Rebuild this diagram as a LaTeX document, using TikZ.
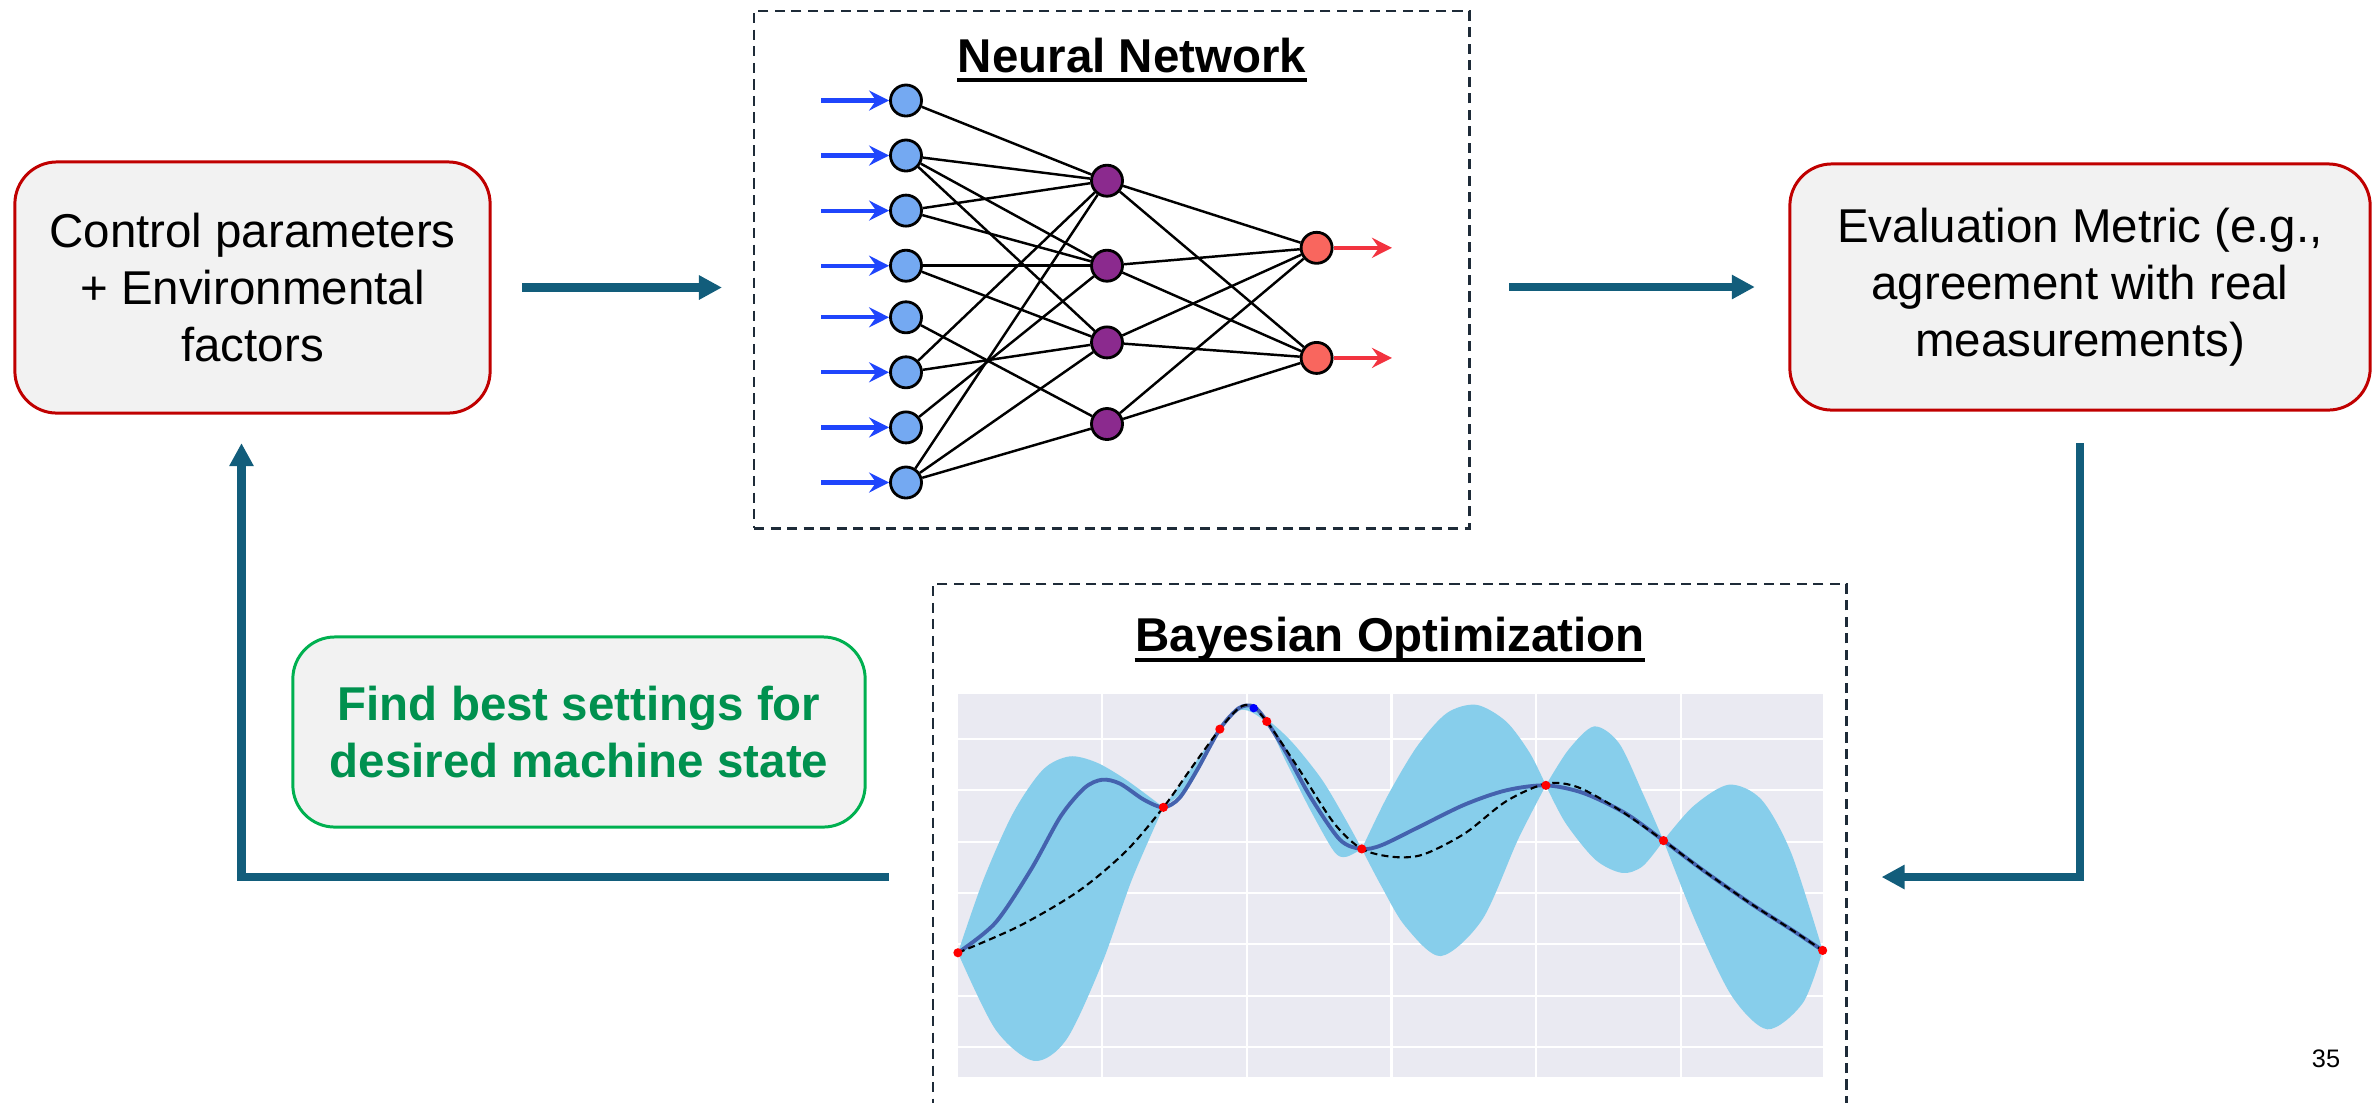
\documentclass[tikz,border=0pt]{standalone}
\usepackage{fontspec}
\setmainfont{Liberation Sans}
\usetikzlibrary{arrows.meta}

\definecolor{boxred}{HTML}{C00000}
\definecolor{boxgray}{HTML}{F2F2F2}
\definecolor{boxgreen}{HTML}{00B050}
\definecolor{txtgreen}{HTML}{00914F}
\definecolor{flowteal}{HTML}{125D7B}
\definecolor{dashnavy}{HTML}{1E2B38}
\definecolor{inblue}{HTML}{74A9F2}
\definecolor{hidpurple}{HTML}{8B2A8E}
\definecolor{outred}{HTML}{F9665E}
\definecolor{arrblue}{HTML}{1F45FC}
\definecolor{arrred}{HTML}{F2333F}
\definecolor{plotbg}{HTML}{EAEAF2}
\definecolor{bandblue}{HTML}{87CEEB}
\definecolor{meanblue}{HTML}{4462AE}

\begin{document}
\begin{tikzpicture}[x=0.01cm, y=-0.01cm]
      \tikzstyle{PBOX} = [draw=boxred, fill=boxgray, line width=0.85pt, rounded corners=0.42cm, align=center, inner sep=0pt, outer sep=0pt, font=\fontsize{13.5pt}{16.2pt}\selectfont]
      \tikzstyle{GBOX} = [PBOX, draw=boxgreen, text=txtgreen, font=\bfseries\fontsize{13.5pt}{16.2pt}\selectfont]
      \tikzstyle{DBOX} = [draw=dashnavy, line width=0.8pt, dash pattern=on 2.9pt off 1.8pt, inner sep=0pt, outer sep=0pt]
      \tikzstyle{TITLE} = [inner sep=0pt, font=\bfseries\fontsize{13.5pt}{16.2pt}\selectfont]
      \tikzstyle{FLOW} = [draw=flowteal, line width=2.3pt, -{Triangle[length=0.23cm, width=0.23cm]}]
      \tikzstyle{INN} = [circle, draw=black, line width=0.8pt, fill=inblue, minimum size=0.31cm, inner sep=0pt]
      \tikzstyle{HID} = [INN, fill=hidpurple]
      \tikzstyle{OUT} = [INN, fill=outred]
      \tikzstyle{SYN} = [draw=black, line width=0.7pt]
      \tikzstyle{INARR} = [draw=arrblue, line width=1.2pt, -{Stealth[length=0.2cm, width=0.2cm, inset=0.07cm]}]
      \tikzstyle{OUTARR} = [INARR, draw=arrred]

      \useasboundingbox (0,0) rectangle (2379,1102);
      \clip (0,0) rectangle (2379,1102);

      %%%%% BOXES
      \node[PBOX, minimum width=4.75cm, minimum height=2.51cm] (lbox) at (252.5,287.5) {Control parameters\\+ Environmental\\factors};
      \node[PBOX, minimum width=5.80cm, minimum height=2.46cm] (rbox) at (2080,287) {Evaluation Metric (e.g.,\\agreement with real\\measurements)};
      \node[GBOX, minimum width=5.72cm, minimum height=1.90cm] (gbox) at (579,732) {Find best settings for\\desired machine state};

      \node[DBOX, anchor=north west, minimum width=7.15cm, minimum height=5.17cm] (nnbox) at (754,11) {};
      \node[DBOX, anchor=north west, minimum width=9.13cm, minimum height=6.0cm] (bobox) at (933,584) {};

      \node[TITLE, anchor=base] (nntitle) at (1132,72) {Neural Network};
      \draw[line width=1pt] ([yshift=-2.3pt]nntitle.base west) -- ([yshift=-2.3pt]nntitle.base east);
      \node[TITLE, anchor=base] (botitle) at (1390,651) {Bayesian Optimization};
      \draw[line width=1pt] ([yshift=-2.6pt]botitle.base west) -- ([yshift=-2.6pt]botitle.base east);

      \node[inner sep=0pt, font=\fontsize{7.2pt}{8.6pt}\selectfont] (pgnum) at (2326,1059) {35};

      %%%%% FLOW
      \coordinate (lowline) at (0,877);
      \draw[FLOW, shorten <=0.32cm, shorten >=0.32cm] (lbox.east) -- (lbox.east -| nnbox.west);
      \draw[FLOW, shorten <=0.40cm, shorten >=0.35cm] (rbox.west -| nnbox.east) -- (rbox.west);
      \draw[FLOW, shorten <=0.33cm, shorten >=0.35cm] (rbox.south) |- (bobox.east |- lowline);
      \draw[FLOW, shorten <=0.44cm, shorten >=0.30cm] (bobox.west |- lowline) -| ([xshift=-0.11cm]lbox.south);

      %%%%% NETWORK
      \foreach \yy [count=\k] in {100.5,155.5,210.6,265.7,317.3,372.3,427.4,482.5} {
        \node[INN] (in\k) at (906,\yy) {};
        \coordinate (src\k) at (821,\yy);
        \draw[INARR] (src\k) -- (in\k);
      }
      \foreach \yy [count=\k] in {180.7,265.7,342.4,424.0}
        \node[HID] (hd\k) at (1107,\yy) {};
      \foreach \yy [count=\k] in {247.8,357.9} {
        \node[OUT] (out\k) at (1316.6,\yy) {};
        \coordinate (dst\k) at (1392,\yy);
        \draw[OUTARR] (out\k) -- (dst\k);
      }

      \foreach \a/\b in {1/1, 2/1, 2/2, 2/3, 3/1, 3/2, 4/2, 4/3, 5/4, 6/1, 6/3, 7/2, 8/1, 8/3, 8/4}
        \draw[SYN] (in\a) -- (hd\b);
      \foreach \a in {1,...,4}
        \foreach \b in {1,2}
          \draw[SYN] (hd\a) -- (out\b);

      %%%%% OPTIMIZATION PLOT
      \begin{scope}[shift={(930,580)}, x=0.005931cm, y=-0.003333cm]
        \fill[plotbg] (47,342) rectangle (1503,1493);
        \foreach \gx in {290,533,777,1020,1265}
          \draw[white, line width=0.6pt] (\gx,342) -- (\gx,1493);
        \foreach \gy in {478,632,787,940,1095,1250,1403}
          \draw[white, line width=0.6pt] (47,\gy) -- (1503,\gy);

        \fill[bandblue]
          plot[smooth, tension=0.5] coordinates {(47,1120) (90,900) (140,700) (190,570) (235,530) (280,548) (330,600) (393,683)}
          -- plot[smooth, tension=0.5] coordinates {(393,683) (430,590) (488,446) (525,376) (567,418) (610,488) (660,600) (700,720) (727,808)}
          -- plot[smooth, tension=0.5] coordinates {(727,808) (770,650) (820,500) (870,400) (920,375) (970,425) (1010,520) (1037,617)}
          -- plot[smooth, tension=0.5] coordinates {(1037,617) (1075,510) (1118,440) (1160,490) (1200,640) (1235,783)}
          -- plot[smooth, tension=0.5] coordinates {(1235,783) (1285,680) (1345,615) (1400,660) (1450,820) (1503,1113)}
          -- plot[smooth, tension=0.5] coordinates {(1503,1113) (1470,1270) (1410,1350) (1350,1250) (1290,1030) (1235,783)}
          -- plot[smooth, tension=0.5] coordinates {(1235,783) (1200,860) (1165,880) (1120,840) (1070,730) (1037,617)}
          -- plot[smooth, tension=0.5] coordinates {(1037,617) (990,780) (930,1020) (860,1130) (800,1040) (760,920) (727,808)}
          -- plot[smooth, tension=0.5] coordinates {(727,808) (700,832) (680,815) (640,690) (600,548) (567,432) (525,390) (488,452) (440,610) (393,683)}
          -- plot[smooth, tension=0.5] coordinates {(393,683) (340,900) (290,1150) (230,1380) (175,1445) (110,1350) (47,1120)}
          -- cycle;

        \draw[meanblue, line width=1.1pt] plot[smooth, tension=0.5] coordinates {(47,1120) (110,1030) (170,870) (220,710) (260,625) (290,600) (320,612) (360,660) (393,683) (420,655) (450,570) (488,448) (520,385) (545,380) (567,425) (600,520) (640,650) (690,780) (727,808) (760,797) (820,745) (900,675) (970,632) (1037,617) (1100,640) (1170,700) (1235,783) (1300,870) (1380,970) (1450,1050) (1503,1113)};
        \draw[black, line width=0.6pt, dash pattern=on 2pt off 1.2pt] plot[smooth, tension=0.5] coordinates {(47,1120) (150,1040) (250,935) (330,815) (393,683) (440,565) (488,448) (520,385) (540,378) (567,425) (620,565) (680,730) (727,808) (780,832) (830,825) (900,762) (970,665) (1037,612) (1090,622) (1160,690) (1235,783) (1300,870) (1380,970) (1450,1050) (1503,1113)};

        \foreach \px/\py in {47/1120, 393/683, 488/448, 567/425, 727/808, 1037/617, 1235/783, 1503/1113}
          \fill[red] (\px,\py) circle[radius=1.3pt];
        \fill[blue] (545,385) circle[radius=1.2pt];
      \end{scope}
\end{tikzpicture}
\end{document}
